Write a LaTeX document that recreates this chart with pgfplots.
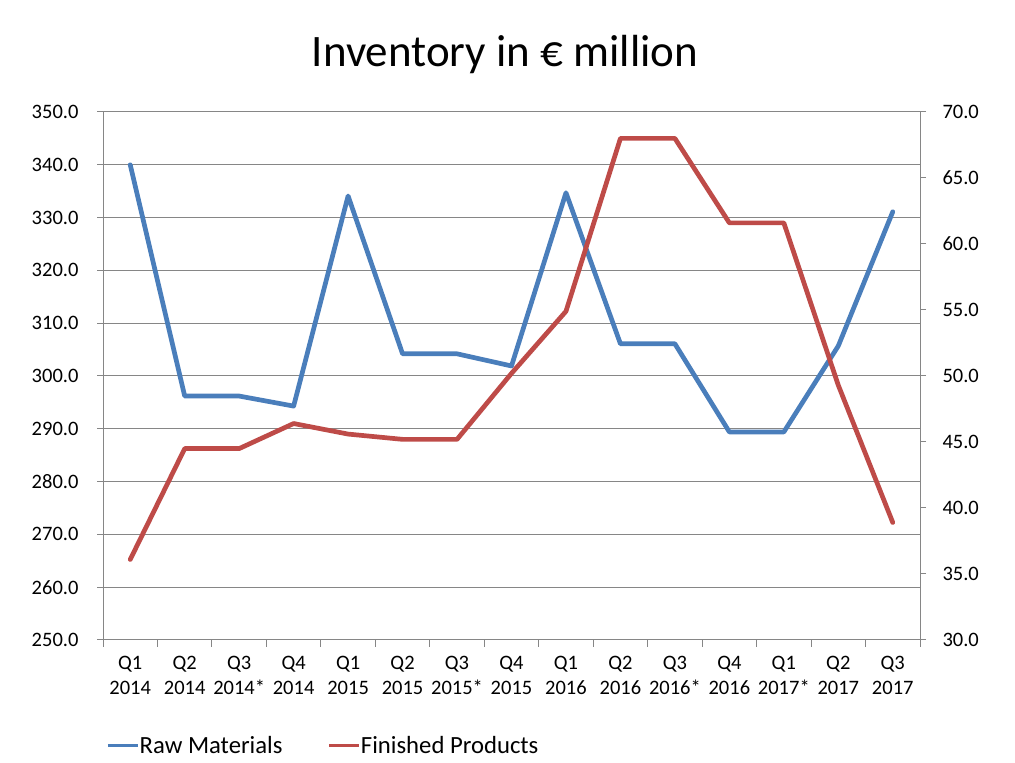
\documentclass[border=0pt]{standalone}
\usepackage{pgfplots}
\usepackage{pgfplotstable}
\pgfplotsset{compat=1.18}
\usepackage{fontspec}
\setmainfont{Carlito}
\definecolor{rawblue}{HTML}{4A7EBB}
\definecolor{finred}{HTML}{BE4B48}
\definecolor{gridgray}{HTML}{868686}

\pgfplotstableread{
x raw fin
0 340.0 36.1
1 296.2 44.5
2 296.2 44.5
3 294.3 46.4
4 334.1 45.6
5 304.2 45.2
6 304.2 45.2
7 301.9 50.2
8 334.7 54.9
9 306.1 68.0
10 306.1 68.0
11 289.4 61.6
12 289.4 61.6
13 305.7 49.3
14 331.1 38.9
}\datatable

\pgfplotsset{
  commonaxis/.style={
    at={(103pt,123pt)}, anchor=south west,
    scale only axis, width=817pt, height=528pt,
    xmin=-0.5, xmax=14.5,
    axis line style={gridgray, line width=1pt},
    tick style={gridgray, line width=1pt},
    tick align=outside,
    major tick length=6pt,
    minor tick length=7pt,
    ticklabel style={font=\fontsize{20.5}{24.5}\selectfont, text=black},
    yticklabel style={/pgf/number format/fixed, /pgf/number format/fixed zerofill, /pgf/number format/precision=1, /pgf/number format/assume math mode=true},
  },
}

\begin{document}
\begin{tikzpicture}
\useasboundingbox (0pt,0pt) rectangle (1015pt,763pt);
\node[font=\fontsize{45}{50}\selectfont, anchor=base] at (505pt,696pt) {Inventory in € million};
\begin{axis}[commonaxis,
  axis x line*=bottom, axis y line*=left,
  ymin=250, ymax=350, ytick={250,260,270,280,290,300,310,320,330,340,350},
  ymajorgrids, grid style={gridgray, line width=1pt},
  yticklabel style={xshift=-15pt},
  xtick={0,...,14},
  xticklabels={{Q1\\2014},{Q2\\2014},{Q3\\2014*},{Q4\\2014},{Q1\\2015},{Q2\\2015},{Q3\\2015*},{Q4\\2015},{Q1\\2016},{Q2\\2016},{Q3\\2016*},{Q4\\2016},{Q1\\2017*},{Q2\\2017},{Q3\\2017}},
  xticklabel style={align=center, yshift=-7pt},
  major x tick style={draw=none},
  minor xtick={-0.5,0.5,1.5,2.5,3.5,4.5,5.5,6.5,7.5,8.5,9.5,10.5,11.5,12.5,13.5,14.5},
]
\addplot[rawblue, line width=4.7pt, line join=round, line cap=round] table[x=x,y=raw]{\datatable};
\end{axis}
\begin{axis}[commonaxis,
  axis x line=none, axis y line*=right,
  ymin=30, ymax=70, ytick={30,35,40,45,50,55,60,65,70},
  yticklabel style={xshift=13pt},
  legend columns=2,
  legend style={at={(axis description cs:0.0,-0.2)}, anchor=west, draw=none, fill=none,
    font=\fontsize{24.7}{28}\selectfont,
    nodes={inner xsep=0pt},
    /tikz/every even column/.append style={column sep=45pt}},
  legend image code/.code={\draw[#1, line cap=butt] (0pt,0pt) -- (30pt,0pt);},
]
\addlegendimage{rawblue, line width=3.5pt}
\addlegendentry{Raw Materials}
\addplot[finred, line width=4.7pt, line join=round, line cap=round, forget plot] table[x=x,y=fin]{\datatable};
\addlegendimage{finred, line width=3.5pt}
\addlegendentry{Finished Products}
\end{axis}
\end{tikzpicture}
\end{document}
